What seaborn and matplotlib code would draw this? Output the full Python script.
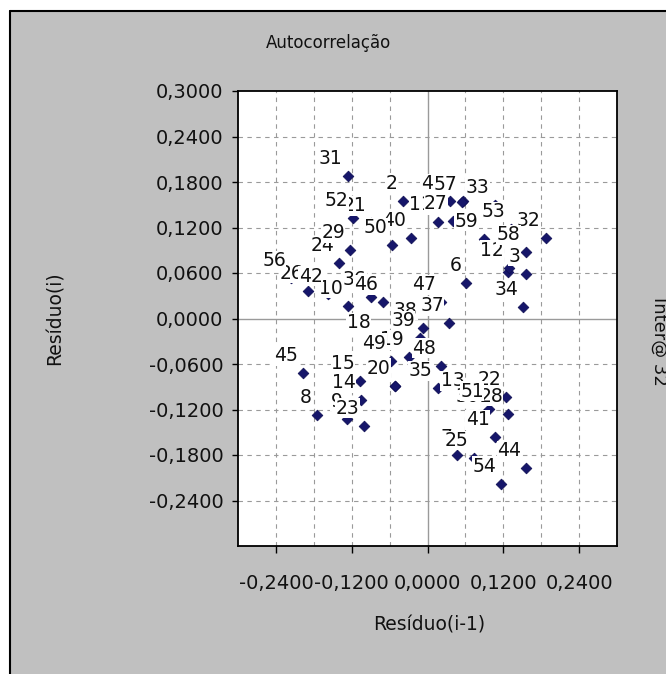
import matplotlib
matplotlib.use('Agg')
import matplotlib.pyplot as plt
import seaborn as sns
import pandas as pd
from matplotlib.ticker import FixedLocator, FuncFormatter
from matplotlib.patches import Rectangle
from matplotlib.lines import Line2D

# Point labels (observation index)
point_labels = [2, 3, 4, 5, 6, 7, 8, 9, 10,
                11, 12, 13, 14, 15, 16, 17, 18, 19, 20,
                21, 22, 23, 24, 25, 26, 27, 28, 29, 30,
                31, 32, 33, 34, 35, 36, 37, 38, 39, 40,
                41, 42, 43, 44, 45, 46, 47, 48, 49, 50,
                51, 52, 53, 54, 56, 57, 58, 59]

# Resíduo(i-1)
res_prev = [-0.0392, 0.1553, 0.0555, 0.1280, 0.0613, 0.0466, -0.1748, -0.1268, -0.1263,
            0.0163, 0.1289, 0.0666, -0.1051, -0.1067, -0.0818, -0.0512, -0.0824, -0.0290, -0.0512,
            -0.0888, 0.1248, -0.0999, -0.1395, 0.0729, -0.1886, 0.0401, 0.1273, -0.1225, 0.0897,
            -0.1263, 0.1871, 0.1062, 0.1511, 0.0159, -0.0892, 0.0338, -0.0075, -0.0119, -0.0258,
            0.1062, -0.1580, 0.0349, 0.1565, -0.1966, -0.0709, 0.0217, 0.0217, -0.0575, -0.0555,
            0.0972, -0.1173, 0.1316, 0.1168, -0.2161, 0.0550, 0.1553, 0.0888]

# Resíduo(i)
res_curr = [0.1556, 0.0589, 0.1543, 0.0613, 0.0466, -0.1806, -0.1266, -0.1320, 0.0171,
            0.1270, 0.0669, -0.1051, -0.1081, -0.0818, -0.0316, -0.0884, -0.0290, -0.0512, -0.0884,
            0.1253, -0.1038, -0.1411, 0.0729, -0.1840, 0.0369, 0.1292, -0.1257, 0.0897, -0.1263,
            0.1873, 0.1064, 0.1503, 0.0149, -0.0923, 0.0281, -0.0062, -0.0119, -0.0258, 0.1064,
            -0.1565, 0.0326, 0.1547, -0.1978, -0.0725, 0.0215, 0.0215, -0.0620, -0.0554, 0.0963,
            -0.1191, 0.1323, 0.1174, -0.2176, 0.0531, 0.1534, 0.0874, 0.1051]

x_ticks = [-0.24, -0.12, 0.0, 0.12, 0.24]
x_grid = [-0.24, -0.18, -0.12, -0.06, 0.06, 0.12, 0.18, 0.24]
y_ticks = [-0.24, -0.18, -0.12, -0.06, 0.0, 0.06, 0.12, 0.18, 0.24, 0.30]
y_grid = [-0.24, -0.18, -0.12, -0.06, 0.06, 0.12, 0.18, 0.24]

sns.set_theme(style='white')
plt.rcParams['font.family'] = ['DejaVu Sans']

W, H = 666, 674
fig = plt.figure(figsize=(W / 100, H / 100), dpi=100, facecolor='white')

# grey chart frame
fig.patches.append(Rectangle((10 / W, 0), 1, 1 - 11 / H, transform=fig.transFigure,
                             facecolor='#c0c0c0', edgecolor='none', zorder=-10))
fig.add_artist(Line2D([10 / W, 10 / W], [0, 1 - 11 / H], color='black', lw=1.5,
                      transform=fig.transFigure, zorder=-5))
fig.add_artist(Line2D([10 / W, 1], [1 - 11 / H, 1 - 11 / H], color='black', lw=1.5,
                      transform=fig.transFigure, zorder=-5))

left, right, top, bottom = 238, 617, 91, 546
ax = fig.add_axes([left / W, (H - bottom) / H, (right - left) / W, (bottom - top) / H])
ax.set_zorder(5)
ax.set_facecolor('white')

df = pd.DataFrame({'prev': res_prev, 'curr': res_curr, 'label': point_labels})

for g in x_grid:
    ax.axvline(g, color='#9a9a9a', lw=0.8, ls=(0, (4, 4)), zorder=1)
for g in y_grid:
    ax.axhline(g, color='#9a9a9a', lw=0.8, ls=(0, (4, 4)), zorder=1)
ax.axhline(0, color='#9a9a9a', lw=1.0, zorder=1)
ax.axvline(0, color='#9a9a9a', lw=1.0, zorder=1)

sns.scatterplot(data=df, x='prev', y='curr', marker='D', s=30, color='#16166a',
                edgecolor='#0c0c50', linewidth=0.5, ax=ax, zorder=3, legend=False)

for lab, xv, yv in zip(df['label'], df['prev'], df['curr']):
    ax.annotate(str(lab), (xv, yv), xytext=(-5, 12), textcoords='offset pixels',
                ha='right', va='baseline', fontsize=13.5, color='#111111',
                bbox=dict(boxstyle='square,pad=0.02', fc='white', ec='none'), zorder=4)

ax.set_xlim(-0.3, 0.3)
ax.set_ylim(-0.3, 0.3)

fmt = FuncFormatter(lambda v, p: ('%.4f' % (0.0 if abs(v) < 1e-9 else v)).replace('.', ','))
ax.xaxis.set_major_locator(FixedLocator(x_ticks))
ax.yaxis.set_major_locator(FixedLocator(y_ticks))
ax.xaxis.set_major_formatter(fmt)
ax.yaxis.set_major_formatter(fmt)
ax.tick_params(axis='x', direction='out', length=5, width=1, color='black', pad=15,
               labelsize=14, labelcolor='#111111', bottom=True)
ax.tick_params(axis='y', direction='out', length=4, width=1, color='black', pad=6.5,
               labelsize=14, labelcolor='#111111', left=True)
for s in ax.spines.values():
    s.set_color('black')
    s.set_linewidth(1.3)
ax.set_xlabel('')
ax.set_ylabel('')

fig.text(329 / W, 1 - 43 / H, 'Autocorrelação', ha='center', va='center', fontsize=12, color='#111111')
fig.text(429 / W, 1 - 625 / H, 'Resíduo(i-1)', ha='center', va='center', fontsize=13.5, color='#111111')
fig.text(55 / W, 1 - 318 / H, 'Resíduo(i)', ha='center', va='center', rotation=90, fontsize=13.5, color='#111111')
fig.text(650 / W, 1 - 297 / H, 'Inter@ 32', ha='left', va='top', rotation=-90, fontsize=13, color='#111111')

fig.savefig('out.png', dpi=100, facecolor=fig.get_facecolor())
